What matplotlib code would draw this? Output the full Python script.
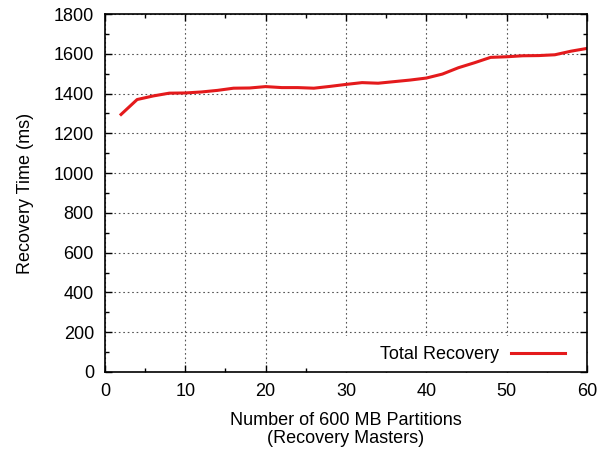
import matplotlib
matplotlib.use("Agg")
import matplotlib.pyplot as plt
from matplotlib.ticker import MultipleLocator
from matplotlib.patches import Rectangle

plt.rcParams['font.family'] = ['Liberation Sans', 'DejaVu Sans']

partitions = [2, 4, 6, 8, 10, 12, 14, 16, 18, 20, 22, 24, 26, 28, 30,
              32, 34, 36, 38, 40, 42, 44, 46, 48, 50, 52, 54, 56, 58, 60]
recovery_ms = [1295, 1370, 1388, 1402, 1403, 1408, 1416, 1427, 1428, 1435,
               1430, 1430, 1427, 1436, 1446, 1455, 1452, 1460, 1468, 1478,
               1498, 1530, 1555, 1582, 1585, 1590, 1591, 1595, 1613, 1627]
series_label = "Total Recovery"

FS = 13

fig = plt.figure(figsize=(6.01, 4.49), dpi=100)
ax = fig.add_axes([0.1747, 0.1715, 0.802, 0.7973])

ax.plot(partitions, recovery_ms, color='#e41a1c', lw=2.2, label=series_label, zorder=3)

ax.set_xlim(0, 60)
ax.set_ylim(0, 1800)
ax.xaxis.set_major_locator(MultipleLocator(10))
ax.xaxis.set_minor_locator(MultipleLocator(5))
ax.yaxis.set_major_locator(MultipleLocator(200))
ax.yaxis.set_minor_locator(MultipleLocator(100))
ax.tick_params(which='both', direction='in', top=True, right=True, labelsize=FS, width=1, colors='black')
ax.tick_params(which='major', length=5, pad=8)
ax.tick_params(which='minor', length=3)
for s in ax.spines.values():
    s.set_linewidth(1.2)
    s.set_zorder(5)

ax.grid(True, which='major', linestyle=(0, (1.5, 2.5)), color='#555555', linewidth=0.8)
ax.set_axisbelow(True)

# white legend background box (gnuplot-style key box)
ax.add_patch(Rectangle((0.494, 0.0), 0.506, 0.10, transform=ax.transAxes,
                       facecolor='white', edgecolor='none', zorder=2))

ax.set_xlabel("Number of 600 MB Partitions\n(Recovery Masters)", fontsize=FS, linespacing=1.12, labelpad=8.5)
ax.set_ylabel("Recovery Time (ms)", fontsize=FS, labelpad=14)

leg = ax.legend(loc='lower right', bbox_to_anchor=(0.955, 0.025), markerfirst=False, frameon=False,
                fontsize=FS, handlelength=3.0, borderaxespad=0, borderpad=0, handletextpad=0.65)
leg.set_zorder(4)

fig.savefig("out.png", dpi=100)
